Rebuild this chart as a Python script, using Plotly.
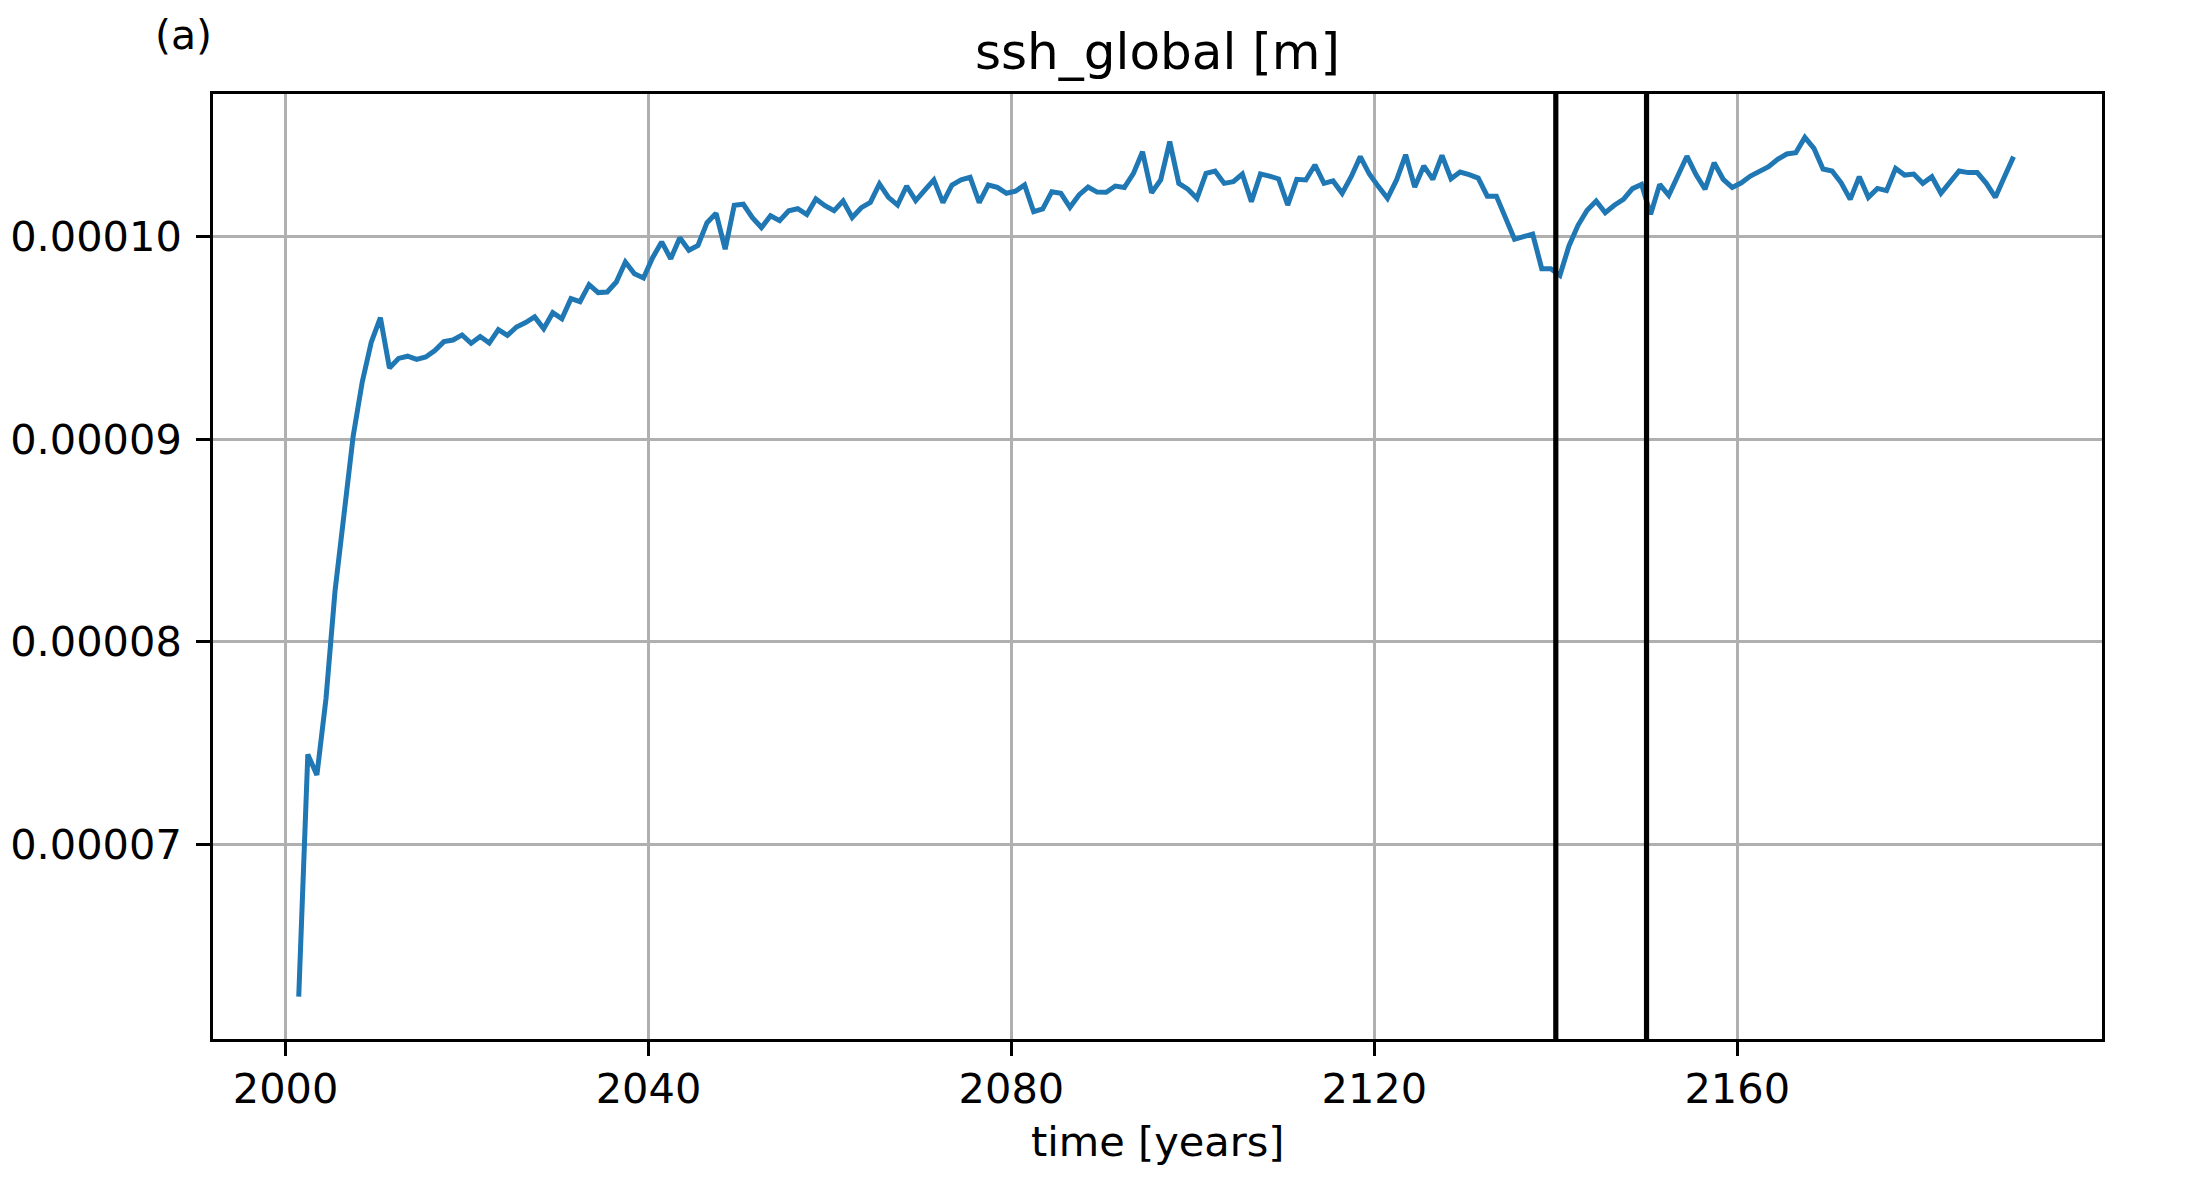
import plotly.graph_objects as go

# ---- data ----
start_year = 2001.45
ssh_e5 = [
    6.250, 7.445, 7.343, 7.718, 8.251, 8.645, 9.016, 9.283, 9.480, 9.600,
    9.352, 9.399, 9.410, 9.394, 9.406, 9.438, 9.482, 9.490, 9.515, 9.474,
    9.507, 9.475, 9.541, 9.513, 9.554, 9.576, 9.604, 9.546, 9.625, 9.595,
    9.694, 9.679, 9.763, 9.724, 9.727, 9.776, 9.875, 9.817, 9.796, 9.896,
    9.974, 9.891, 9.995, 9.933, 9.957, 10.069, 10.115, 9.938, 10.155, 10.160,
    10.094, 10.045, 10.103, 10.079, 10.128, 10.138, 10.109, 10.186, 10.153, 10.128,
    10.176, 10.095, 10.143, 10.169, 10.260, 10.194, 10.156, 10.250, 10.178, 10.230,
    10.280, 10.168, 10.255, 10.280, 10.293, 10.168, 10.255, 10.243, 10.214, 10.225,
    10.255, 10.123, 10.137, 10.222, 10.214, 10.145, 10.206, 10.245, 10.220, 10.219,
    10.250, 10.243, 10.312, 10.419, 10.217, 10.280, 10.469, 10.263, 10.234, 10.189,
    10.312, 10.324, 10.263, 10.271, 10.309, 10.173, 10.309, 10.299, 10.285, 10.156,
    10.283, 10.280, 10.354, 10.263, 10.275, 10.214, 10.296, 10.395, 10.309, 10.247,
    10.189, 10.280, 10.404, 10.245, 10.349, 10.283, 10.401, 10.286, 10.319, 10.306,
    10.289, 10.200, 10.200, 10.094, 9.987, 10.000, 10.013, 9.842, 9.842, 9.809,
    9.954, 10.056, 10.130, 10.176, 10.118, 10.155, 10.184, 10.237, 10.258, 10.110,
    10.258, 10.204, 10.307, 10.397, 10.306, 10.234, 10.365, 10.283, 10.243, 10.266,
    10.299, 10.321, 10.345, 10.382, 10.408, 10.414, 10.490, 10.436, 10.334, 10.324,
    10.266, 10.184, 10.296, 10.194, 10.238, 10.227, 10.337, 10.304, 10.309, 10.263,
    10.296, 10.214, 10.271, 10.324, 10.316, 10.316, 10.263, 10.194, 10.296, 10.395,
]
years = [start_year + i for i in range(len(ssh_e5))]
ssh = [v * 1e-5 for v in ssh_e5]

vline_years = [2140, 2150]
x_tick_vals = [2000, 2040, 2080, 2120, 2160]
x_tick_text = ["2000", "2040", "2080", "2120", "2160"]
y_tick_vals = [0.00007, 0.00008, 0.00009, 0.00010]
y_tick_text = ["0.00007", "0.00008", "0.00009", "0.00010"]

title_text = "ssh_global [m]"
xlabel_text = "time [years]"
panel_label = "(a)"

FONT = "DejaVu Sans"
# page body has an 8px margin, so the figure is slightly smaller
W, H = 2188, 1173
L, R, T, B = 205, 94, 86, 142

fig = go.Figure()
fig.add_trace(go.Scatter(
    x=years, y=ssh, mode="lines",
    line=dict(color="#1f77b4", width=5),
    showlegend=False, hoverinfo="skip",
))

for vy in vline_years:
    fig.add_shape(type="line", xref="x", yref="paper", x0=vy, x1=vy, y0=0, y1=1,
                  line=dict(color="black", width=5.2), layer="above")

axis_common = dict(
    showline=True, linecolor="black", linewidth=2.7, mirror=True,
    showgrid=True, gridcolor="#b0b0b0", gridwidth=2.5,
    ticks="outside", ticklen=14, tickwidth=2.7, tickcolor="black",
    zeroline=False, automargin=False,
    tickfont=dict(family=FONT, size=41.5, color="black"),
)

fig.update_layout(
    width=W, height=H, autosize=False,
    margin=dict(l=L, r=R, t=T, b=B, pad=0),
    paper_bgcolor="white", plot_bgcolor="white",
    font=dict(family=FONT, color="black"),
    xaxis=dict(range=[1992.0, 2200.2], tickmode="array",
               tickvals=x_tick_vals, ticktext=x_tick_text,
               ticklabelstandoff=-3, **axis_common),
    yaxis=dict(range=[0.000060405, 0.00010704], tickmode="array",
               tickvals=y_tick_vals, ticktext=y_tick_text,
               ticklabelstandoff=6, **axis_common),
    annotations=[
        dict(text=title_text, xref="paper", yref="paper", x=0.5, y=1.0444,
             xanchor="center", yanchor="middle", showarrow=False,
             font=dict(family=FONT, size=50, color="black")),
        dict(text=xlabel_text, xref="paper", yref="paper", x=0.5, y=-0.1086,
             xanchor="center", yanchor="middle", showarrow=False,
             font=dict(family=FONT, size=41.5, color="black")),
        dict(text=panel_label, xref="paper", yref="paper", x=-0.0155, y=1.0624,
             xanchor="center", yanchor="middle", showarrow=False,
             font=dict(family=FONT, size=41, color="black")),
    ],
)

fig.write_html("out.html")
